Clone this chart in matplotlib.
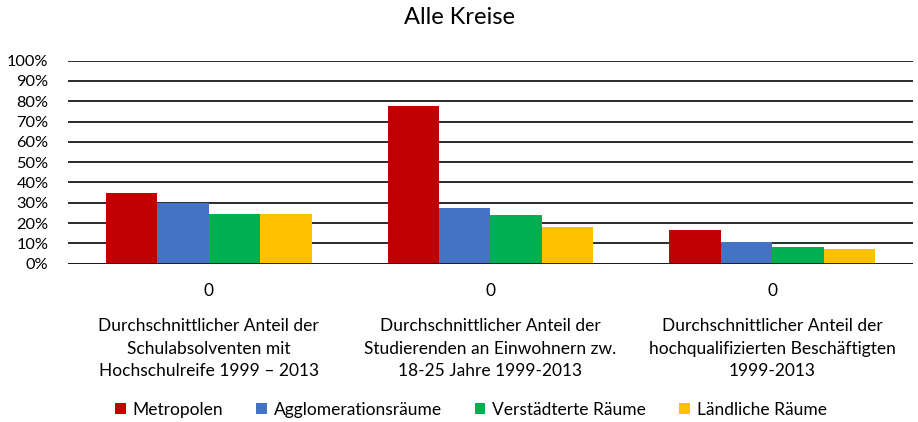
import matplotlib
matplotlib.use("Agg")
import matplotlib.pyplot as plt
from matplotlib.patches import Patch
import numpy as np

title = "Alle Kreise"
categories = [
    "Durchschnittlicher Anteil der\nSchulabsolventen mit\nHochschulreife 1999 \u2013 2013",
    "Durchschnittlicher Anteil der\nStudierenden an Einwohnern zw.\n18-25 Jahre 1999-2013",
    "Durchschnittlicher Anteil der\nhochqualifizierten Besch\u00e4ftigten\n1999-2013",
]
outer_labels = ["0", "0", "0"]
series_names = ["Metropolen", "Agglomerationsr\u00e4ume", "Verst\u00e4dterte R\u00e4ume", "L\u00e4ndliche R\u00e4ume"]
metropolen = [35.0, 77.7, 16.4]
agglomeration = [29.8, 27.4, 10.5]
verstaedtert = [24.6, 24.0, 8.2]
laendlich = [24.5, 18.1, 7.2]
colors = ["#C00000", "#4472C4", "#00B050", "#FFC000"]
yticks = list(range(0, 101, 10))

plt.rcParams['font.family'] = ['Lato', 'DejaVu Sans']

fig = plt.figure(figsize=(9.18, 4.22), dpi=100)
ax = fig.add_axes([68/918, 1-263.7/422, (913-68)/918, (263.7-60.7)/422])

data = [metropolen, agglomeration, verstaedtert, laendlich]
x = np.arange(len(categories))
n = len(data)
group_w = 0.73
bw = group_w / n
for i, (vals, c) in enumerate(zip(data, colors)):
    ax.bar(x - group_w/2 + bw*(i+0.5), vals, width=bw, color=c, zorder=3, linewidth=0)

ax.set_xlim(-0.5, len(categories)-0.5)
ax.set_ylim(0, 100)
ax.set_yticks(yticks)
ax.set_yticklabels([f"{t}%" for t in yticks], fontsize=11.8)
ax.tick_params(axis='y', length=0, pad=14)
ax.set_xticks([])
for s in ax.spines.values():
    s.set_visible(False)
ax.grid(axis='y', color='#1a1a1a', linewidth=1.3, zorder=0)
ax.axhline(0, color='#1a1a1a', linewidth=1.3, zorder=4)

for xi, o, c in zip(x, outer_labels, categories):
    ax.annotate(o, xy=(xi, 0), xycoords=('data', 'axes fraction'),
                xytext=(0, -27), textcoords='offset pixels',
                ha='center', va='center', fontsize=12.5)
    ax.annotate(c, xy=(xi, 0), xycoords=('data', 'axes fraction'),
                xytext=(0, -85), textcoords='offset pixels',
                ha='center', va='center', fontsize=12.5, linespacing=1.5)

fig.text(459/918, 1-18/422, title, ha='center', va='center', fontsize=17)

handles = [Patch(facecolor=c, label=nm) for c, nm in zip(colors, series_names)]
fig.legend(handles=handles, loc='center', bbox_to_anchor=(471/918, 1-410/422),
           ncol=4, frameon=False, fontsize=12.5, handlelength=0.6, handleheight=0.6,
           handletextpad=0.4, columnspacing=1.9)

fig.savefig("out.png", dpi=100)
